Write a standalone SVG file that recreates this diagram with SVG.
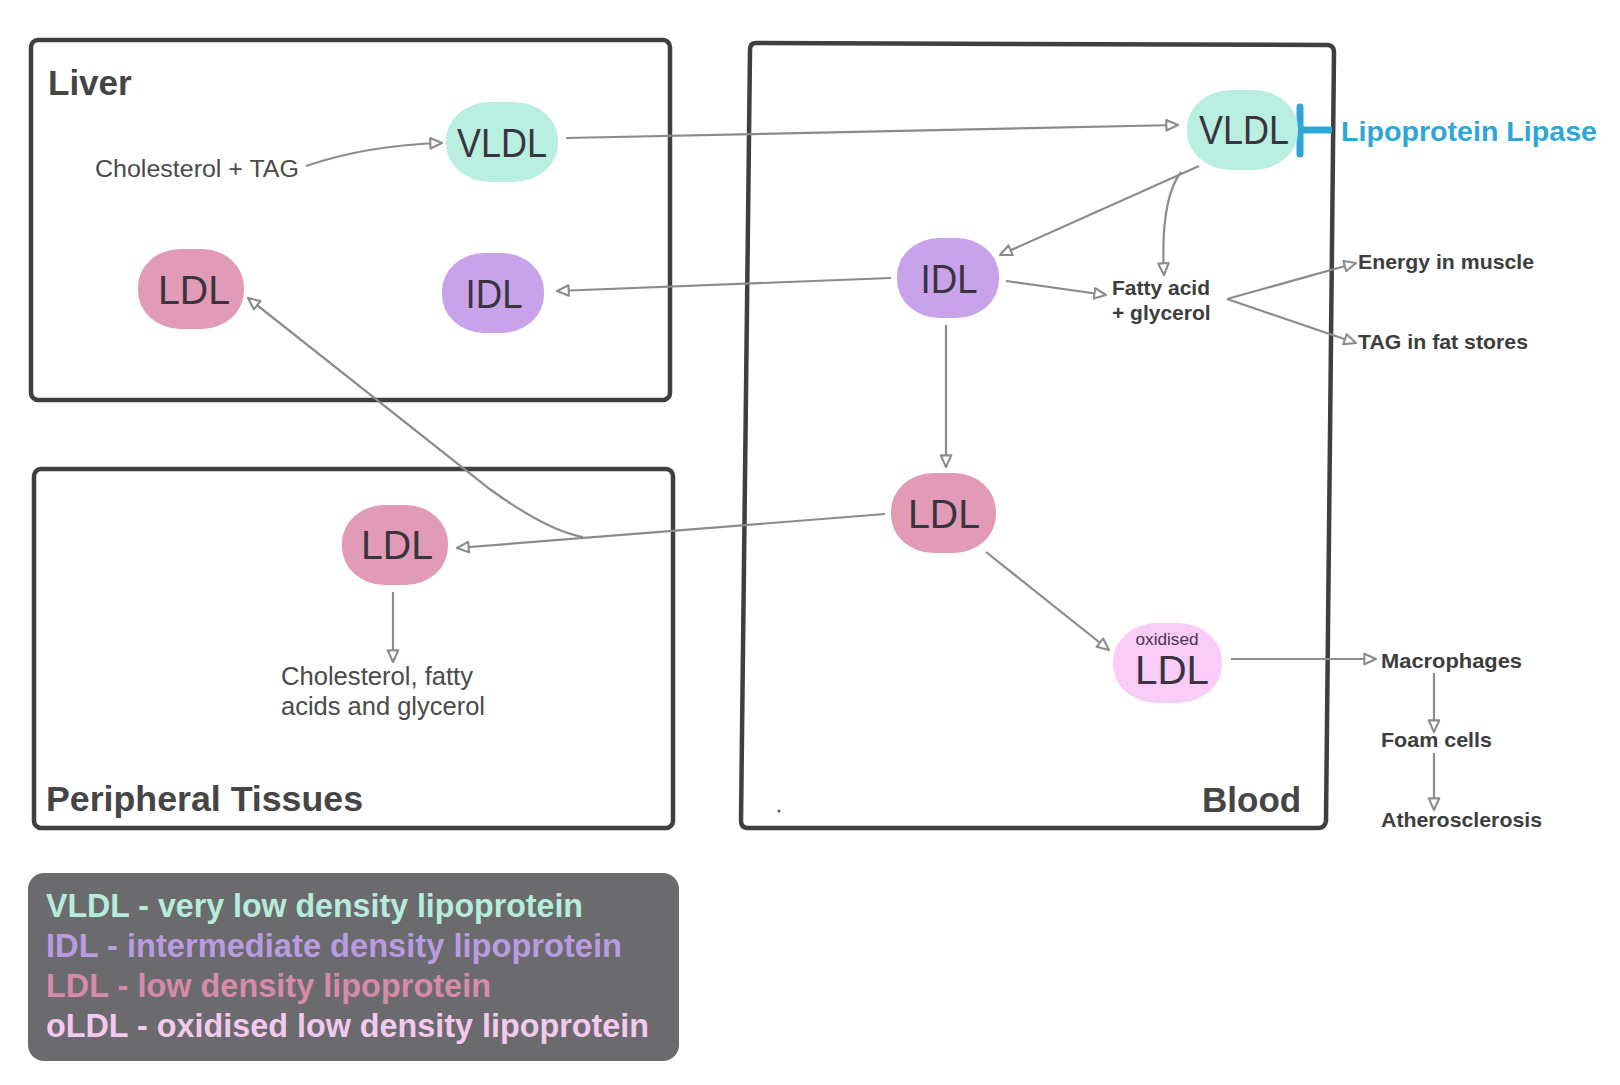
<svg xmlns="http://www.w3.org/2000/svg" width="1620" height="1085" viewBox="0 0 1620 1085">
<defs>
<style>
.box{fill:none;stroke:#3f3f40;stroke-width:4.5;stroke-linejoin:round}
.title{font-family:"Liberation Sans",Arial,sans-serif;font-weight:bold;font-size:35px;fill:#454545}
.lbl{font-family:"Liberation Sans",Arial,sans-serif;font-size:23px;fill:#4a4a4a}
.blbl{font-family:"Liberation Sans",Arial,sans-serif;font-weight:bold;font-size:21px;fill:#3d3d3d}
.node{font-family:"Liberation Sans",Arial,sans-serif;font-size:40px;fill:#3a3440;text-anchor:middle}
.conn path{fill:none;stroke:#8b8b8d;stroke-width:2.2}
.leg{font-family:"Liberation Sans",Arial,sans-serif;font-weight:bold;font-size:32.5px}
</style>
<marker id="ah" viewBox="0 0 12 12" refX="11" refY="6" markerWidth="14" markerHeight="14" markerUnits="userSpaceOnUse" orient="auto">
<path d="M1,1.5 L11,6 L1,10.5 Z" fill="#ffffff" stroke="#8b8b8d" stroke-width="1.8" stroke-linejoin="round"/>
</marker>
</defs>
<rect width="1620" height="1085" fill="#ffffff"/>

<g id="liver-box">
<rect class="box" x="31" y="40" width="639" height="360" rx="7"/>
<text class="title" x="48" y="95">Liver</text>
</g>
<g id="peripheral-box">
<rect class="box" x="34" y="469" width="639" height="359" rx="7"/>
<text class="title" x="46" y="811" textLength="317" lengthAdjust="spacingAndGlyphs">Peripheral Tissues</text>
</g>
<g id="blood-box">
<path class="box" d="M756,43 L1328,45 Q1334,46 1334,52 L1326,821 Q1325,828 1318,828 L748,828 Q741,828 741,821 L750,50 Q750,43 756,43 Z"/>
<text class="title" x="1202" y="812">Blood</text>
<circle cx="779" cy="811" r="1.5" fill="#555"/>
</g>

<g class="conn" id="connectors">
<path d="M306,166 Q368,145 442,143" marker-end="url(#ah)"/>
<path d="M566,138 L1178,125" marker-end="url(#ah)"/>
<path d="M1199,166 L1000,255" marker-end="url(#ah)"/>
<path d="M1181,172 Q1160,200 1164,275" marker-end="url(#ah)"/>
<path d="M891,278 L557,291" marker-end="url(#ah)"/>
<path d="M1006,281 L1106,295" marker-end="url(#ah)"/>
<path d="M1227,299 L1356,263" marker-end="url(#ah)"/>
<path d="M1227,299 L1356,343" marker-end="url(#ah)"/>
<path d="M946,325 L946,467" marker-end="url(#ah)"/>
<path d="M885,514 L457,548" marker-end="url(#ah)"/>
<path d="M583,537 C560,533 530,518 491,490 L248,298" marker-end="url(#ah)"/>
<path d="M393,592 L393,662" marker-end="url(#ah)"/>
<path d="M986,552 L1109,650" marker-end="url(#ah)"/>
<path d="M1231,659 L1376,659" marker-end="url(#ah)"/>
<path d="M1434,673 L1434,732" marker-end="url(#ah)"/>
<path d="M1434,753 L1434,810" marker-end="url(#ah)"/>
</g>

<g id="lipase">
<path d="M1300,107 L1300,154" stroke="#2fa6d8" stroke-width="7" stroke-linecap="round" fill="none"/>
<path d="M1300,130 L1332,130" stroke="#2fa6d8" stroke-width="7" fill="none"/>
<text x="1341" y="141" style="font-family:'Liberation Sans',Arial,sans-serif;font-weight:bold;font-size:27px;fill:#2fa6d8" textLength="256" lengthAdjust="spacingAndGlyphs">Lipoprotein Lipase</text>
</g>

<g id="chol-tag"><text class="lbl" x="95" y="177" textLength="204" lengthAdjust="spacingAndGlyphs">Cholesterol + TAG</text></g>

<g id="liver-vldl">
<rect x="446" y="102" width="112" height="80" rx="44" ry="38" fill="#b9efe1"/>
<text class="node" x="502" y="157" textLength="90" lengthAdjust="spacingAndGlyphs">VLDL</text>
</g>
<g id="liver-ldl">
<rect x="138" y="249" width="106" height="80" rx="42" ry="38" fill="#e29bb6"/>
<text class="node" x="194" y="304" textLength="72" lengthAdjust="spacingAndGlyphs">LDL</text>
</g>
<g id="liver-idl">
<rect x="442" y="253" width="102" height="80" rx="42" ry="38" fill="#c9a3ea"/>
<text class="node" x="494" y="308" textLength="57" lengthAdjust="spacingAndGlyphs">IDL</text>
</g>
<g id="blood-vldl">
<rect x="1187" y="90" width="111" height="80" rx="44" ry="38" fill="#b9efe1"/>
<text class="node" x="1244" y="144" textLength="90" lengthAdjust="spacingAndGlyphs">VLDL</text>
</g>
<g id="blood-idl">
<rect x="897" y="238" width="102" height="80" rx="42" ry="38" fill="#c9a3ea"/>
<text class="node" x="949" y="293" textLength="57" lengthAdjust="spacingAndGlyphs">IDL</text>
</g>
<g id="blood-ldl">
<rect x="891" y="473" width="105" height="80" rx="42" ry="38" fill="#e29bb6"/>
<text class="node" x="944" y="528" textLength="72" lengthAdjust="spacingAndGlyphs">LDL</text>
</g>
<g id="peripheral-ldl">
<rect x="342" y="505" width="106" height="80" rx="42" ry="38" fill="#e29bb6"/>
<text class="node" x="397" y="559" textLength="72" lengthAdjust="spacingAndGlyphs">LDL</text>
</g>
<g id="oxidised-ldl">
<rect x="1113" y="623" width="109" height="80" rx="44" ry="38" fill="#f9cdf7"/>
<text x="1167" y="645" text-anchor="middle" style="font-family:'Liberation Sans',Arial,sans-serif;font-size:17px;fill:#4a3550" textLength="63" lengthAdjust="spacingAndGlyphs">oxidised</text>
<text class="node" x="1172" y="684" textLength="74" lengthAdjust="spacingAndGlyphs">LDL</text>
</g>

<g id="fatty-acid">
<text class="blbl" x="1112" y="295">Fatty acid</text>
<text class="blbl" x="1112" y="320">+ glycerol</text>
</g>
<g id="energy"><text class="blbl" x="1358" y="269" textLength="176" lengthAdjust="spacingAndGlyphs">Energy in muscle</text></g>
<g id="tag-fat"><text class="blbl" x="1358" y="349" textLength="170" lengthAdjust="spacingAndGlyphs">TAG in fat stores</text></g>
<g id="products">
<text class="lbl" x="281" y="685" style="font-size:25px" textLength="192" lengthAdjust="spacingAndGlyphs">Cholesterol, fatty</text>
<text class="lbl" x="281" y="715" style="font-size:25px" textLength="204" lengthAdjust="spacingAndGlyphs">acids and glycerol</text>
</g>
<g id="macrophages"><text class="blbl" x="1381" y="668" textLength="141" lengthAdjust="spacingAndGlyphs">Macrophages</text></g>
<g id="foam-cells"><text class="blbl" x="1381" y="747" textLength="111" lengthAdjust="spacingAndGlyphs">Foam cells</text></g>
<g id="atherosclerosis"><text class="blbl" x="1381" y="827" textLength="161" lengthAdjust="spacingAndGlyphs">Atherosclerosis</text></g>

<g id="legend">
<rect x="28" y="873" width="651" height="188" rx="16" fill="#6b6a6c"/>
<text class="leg" x="46" y="917" fill="#b6ecdc" textLength="537" lengthAdjust="spacingAndGlyphs">VLDL - very low density lipoprotein</text>
<text class="leg" x="46" y="957" fill="#b89be0" textLength="576" lengthAdjust="spacingAndGlyphs">IDL - intermediate density lipoprotein</text>
<text class="leg" x="46" y="997" fill="#d58ba9" textLength="445" lengthAdjust="spacingAndGlyphs">LDL - low density lipoprotein</text>
<text class="leg" x="46" y="1037" fill="#f4c9ef" textLength="603" lengthAdjust="spacingAndGlyphs">oLDL - oxidised low density lipoprotein</text>
</g>
</svg>
